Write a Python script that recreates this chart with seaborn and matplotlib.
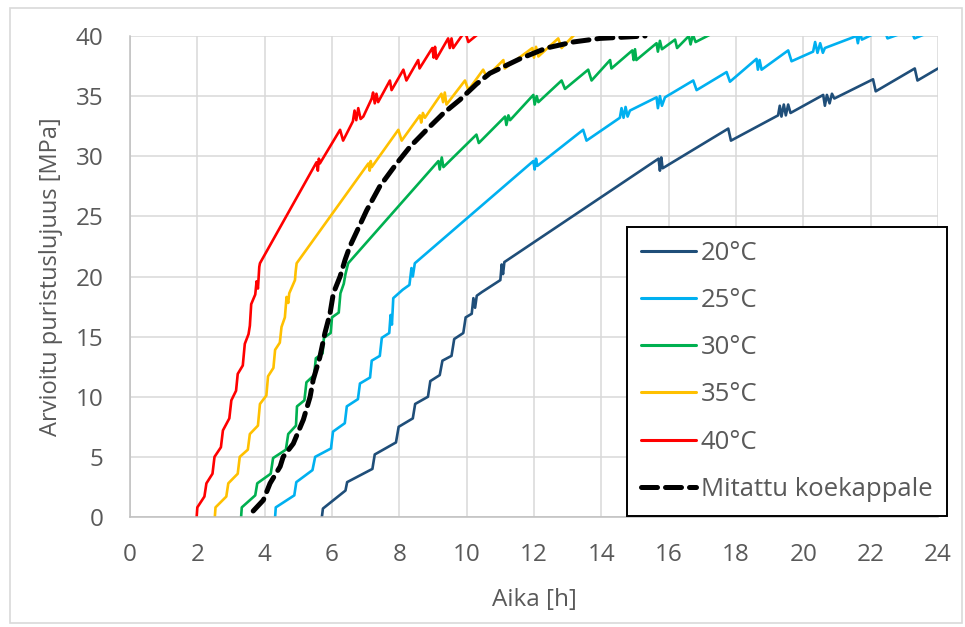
import matplotlib
matplotlib.use("Agg")
import matplotlib.pyplot as plt
import seaborn as sns
from matplotlib.patches import Rectangle

# Arvioitu puristuslujuus eri lämpötiloissa (luettu kuvasta)
t20 = [5.70, 5.73, 6.40, 6.45, 7.20, 7.27, 7.90, 7.98, 8.40, 8.47, 8.85, 8.92, 9.20, 9.28,
       9.55, 9.63, 9.90, 9.97, 10.15, 10.20, 10.25, 10.30, 10.45, 11.00, 11.04, 11.08, 11.12,
       15.70, 15.74, 15.78, 15.82, 17.77, 17.85, 19.25, 19.30, 19.35, 19.42, 19.48, 19.55,
       19.62, 20.59, 20.64, 20.70, 20.78, 20.85, 20.92, 22.07, 22.15, 23.31, 23.39, 24.00]
s20 = [0.0, 0.7, 2.2, 2.9, 4.0, 5.2, 6.2, 7.5, 8.2, 9.4, 10.0, 11.3, 11.8, 13.0,
       13.4, 14.8, 15.3, 16.6, 16.9, 18.2, 17.4, 18.4, 18.7, 19.7, 21.0, 20.2, 21.2,
       29.8, 28.8, 29.9, 29.0, 32.3, 31.3, 33.4, 34.2, 33.3, 34.3, 33.4, 34.3,
       33.6, 35.1, 34.2, 35.1, 34.4, 35.2, 34.8, 36.4, 35.4, 37.3, 36.3, 37.3]

t25 = [4.31, 4.33, 4.88, 4.94, 5.42, 5.50, 5.97, 6.03, 6.38, 6.44, 6.77, 6.83, 7.13, 7.18,
       7.42, 7.48, 7.70, 7.74, 7.78, 7.82, 8.10, 8.30, 8.36, 8.40, 8.46, 11.98, 12.02, 12.06,
       12.10, 13.46, 13.56, 14.55, 14.60, 14.66, 14.72, 14.78, 14.85, 15.64, 15.68, 15.74,
       15.80, 15.89, 16.73, 16.83, 17.72, 17.82, 18.61, 18.65, 18.70, 18.76, 19.55, 19.65,
       20.29, 20.35, 20.42, 20.50, 20.58, 20.64, 21.58, 21.62, 21.68, 21.74, 22.40, 22.50,
       23.20, 23.30, 24.00]
s25 = [0.0, 0.8, 1.8, 2.9, 3.9, 5.0, 5.7, 7.1, 7.8, 9.2, 9.8, 11.1, 11.6, 13.0,
       13.4, 14.9, 15.3, 16.8, 16.0, 18.2, 18.9, 19.3, 20.7, 20.0, 21.1, 29.6, 28.9, 29.8,
       29.2, 32.2, 31.3, 33.2, 34.0, 33.2, 34.1, 33.3, 33.8, 34.9, 34.0, 35.0,
       34.2, 34.9, 36.3, 35.5, 37.0, 36.2, 38.1, 37.2, 38.0, 37.2, 38.8, 37.9,
       38.7, 39.5, 38.6, 39.4, 38.6, 39.0, 40.0, 39.4, 40.3, 39.7, 40.6, 39.8,
       40.5, 39.8, 40.6]

t30 = [3.30, 3.32, 3.72, 3.78, 4.18, 4.25, 4.63, 4.70, 4.93, 4.96, 5.18, 5.24, 5.47, 5.52,
       5.72, 5.76, 5.96, 6.00, 6.20, 6.25, 6.35, 6.40, 6.48, 9.16, 9.20, 9.26, 9.31, 10.29,
       10.36, 11.14, 11.18, 11.24, 11.29, 11.98, 12.02, 12.08, 12.13, 12.82, 12.92, 13.61,
       13.71, 14.26, 14.30, 14.92, 14.96, 15.00, 15.04, 15.64, 15.68, 15.74, 15.80, 16.19,
       16.25, 16.60, 16.65, 16.72, 16.80, 17.50]
s30 = [0.0, 0.8, 1.8, 2.8, 3.6, 4.9, 5.6, 6.9, 7.6, 9.2, 9.7, 11.2, 11.8, 13.2,
       13.6, 14.9, 15.3, 16.6, 17.0, 18.6, 19.4, 20.2, 21.1, 29.6, 28.9, 29.9, 29.1, 31.8,
       31.1, 33.3, 32.6, 33.4, 33.0, 35.1, 34.3, 35.0, 34.5, 36.3, 35.6, 37.2,
       36.3, 38.0, 37.3, 38.8, 38.0, 38.9, 38.0, 39.4, 38.7, 39.6, 38.9, 39.7,
       39.0, 40.0, 39.3, 40.1, 39.5, 40.5]

t35 = [2.52, 2.54, 2.86, 2.92, 3.20, 3.26, 3.50, 3.56, 3.80, 3.86, 4.05, 4.10, 4.26, 4.31,
       4.45, 4.50, 4.60, 4.65, 4.70, 4.73, 4.90, 4.92, 4.95, 7.08, 7.12, 7.15, 7.18, 7.97,
       8.07, 8.61, 8.65, 8.70, 8.76, 9.25, 9.30, 9.35, 9.40, 9.95, 10.05, 10.49, 10.59,
       11.09, 11.13, 11.95, 12.00, 12.06, 12.13, 12.72, 12.82, 13.30]
s35 = [0.0, 0.8, 1.7, 2.8, 3.6, 5.0, 5.6, 6.9, 7.6, 9.4, 10.1, 11.7, 12.4, 13.9,
       14.5, 15.8, 16.6, 18.3, 17.8, 18.6, 19.7, 20.4, 21.1, 29.4, 28.8, 29.6, 29.1, 32.2,
       31.3, 33.4, 32.8, 33.6, 33.2, 35.2, 34.5, 35.3, 34.3, 36.3, 35.5, 37.2, 36.6,
       38.0, 37.3, 39.0, 38.2, 39.1, 38.3, 39.8, 39.0, 40.4]

t40 = [1.98, 2.00, 2.21, 2.27, 2.45, 2.51, 2.70, 2.76, 2.95, 3.01, 3.15, 3.20, 3.35, 3.41,
       3.52, 3.56, 3.60, 3.72, 3.76, 3.80, 3.84, 3.86, 5.54, 5.58, 5.61, 5.64, 6.24, 6.33,
       6.62, 6.67, 6.72, 6.78, 6.85, 6.93, 7.18, 7.22, 7.27, 7.32, 7.37, 7.72, 7.77, 8.12,
       8.21, 8.56, 8.60, 8.98, 9.02, 9.06, 9.10, 9.45, 9.50, 9.55, 9.60, 9.95, 10.05, 10.40]
s40 = [0.0, 0.8, 1.7, 2.8, 3.6, 5.0, 5.8, 7.2, 8.2, 9.7, 10.5, 11.9, 12.6, 14.4,
       15.2, 15.9, 17.7, 18.5, 19.6, 19.0, 20.8, 21.1, 29.5, 28.8, 29.8, 29.4, 32.2, 31.3,
       32.9, 33.8, 33.0, 34.0, 33.1, 33.3, 34.8, 35.3, 34.4, 35.2, 34.5, 36.3, 35.5, 37.2,
       36.3, 38.0, 37.3, 39.0, 38.2, 39.1, 38.1, 39.8, 39.0, 39.8, 39.0, 40.4, 39.5, 40.3]

t_meas = [3.66, 3.96, 4.16, 4.46, 4.55, 4.85, 5.15, 5.35, 5.44, 5.64, 5.79, 5.94, 6.04, 6.24,
          6.39, 6.53, 7.03, 7.42, 7.92, 8.32, 8.81, 9.30, 9.80, 10.29, 10.69, 11.58, 12.37,
          13.16, 13.96, 15.30]
s_meas = [0.5, 1.4, 2.8, 4.2, 5.0, 6.1, 8.1, 10.0, 11.4, 13.3, 15.3, 16.9, 18.6, 20.0,
          21.4, 22.5, 25.5, 27.5, 29.4, 30.8, 32.2, 33.55, 34.7, 36.0, 36.9, 38.1, 39.0,
          39.5, 39.8, 40.0]

labels = ["20°C", "25°C", "30°C", "35°C", "40°C", "Mitattu koekappale"]
colors = ["#1F4E79", "#00B0F0", "#00B050", "#FFC000", "#FF0000", "#000000"]

sns.set_style("white")
plt.rcParams["font.family"] = ["Open Sans", "DejaVu Sans"]
text_col = "#595959"

fig = plt.figure(figsize=(9.65, 6.27), dpi=100)
ax = fig.add_axes([130 / 965, 1 - 517 / 627, 808 / 965, 481 / 627])

series = [(t20, s20), (t25, s25), (t30, s30), (t35, s35), (t40, s40)]
for (t, s), lab, col in zip(series, labels[:5], colors[:5]):
    sns.lineplot(x=t, y=s, sort=False, estimator=None, color=col, lw=1.9, label=lab, ax=ax)
sns.lineplot(x=t_meas, y=s_meas, sort=False, estimator=None, color="black", lw=3.6,
             label=labels[5], ax=ax, dashes=False)
ax.lines[-1].set_dashes([3.2, 1.6])
ax.lines[-1].set_dash_capstyle("round")

ax.set_xlim(0, 24)
ax.set_ylim(0, 40)
ax.set_xticks(range(0, 25, 2))
ax.set_yticks(range(0, 41, 5))
ax.grid(True, color="#D9D9D9", lw=1.1)
ax.set_axisbelow(True)
for side in ["top", "right"]:
    ax.spines[side].set_visible(False)
for side in ["left", "bottom"]:
    ax.spines[side].set_color("#BFBFBF")
    ax.spines[side].set_linewidth(1.1)
ax.tick_params(length=0, labelsize=17.5, labelcolor=text_col)
ax.tick_params(axis="y", pad=19)
ax.tick_params(axis="x", pad=19)

ax.set_xlabel("Aika [h]", fontsize=17.5, color=text_col)
ax.set_ylabel("Arvioitu puristuslujuus [MPa]", fontsize=17, color=text_col)
ax.xaxis.set_label_coords(0.5, -0.148)
ax.yaxis.set_label_coords(-0.083, 0.5)

leg = ax.legend(loc="upper left", bbox_to_anchor=(627 / 965, 1 - 227 / 627),
                bbox_transform=fig.transFigure, fontsize=18.5, frameon=True, fancybox=False,
                edgecolor="black", handlelength=2.12, handletextpad=0.2, labelspacing=0.86,
                borderpad=0.55, borderaxespad=0)
leg.get_frame().set_linewidth(1.4)
leg.get_frame().set_alpha(1)
for txt in leg.get_texts():
    txt.set_color(text_col)
for h in leg.legend_handles[:5]:
    h.set_linewidth(2.2)

fig.patches.append(Rectangle((10 / 965, 1 - 623 / 627), 952 / 965, 615 / 627,
                             transform=fig.transFigure, fill=False, edgecolor="#D9D9D9", lw=1.2))

fig.savefig("out.png", dpi=100)
